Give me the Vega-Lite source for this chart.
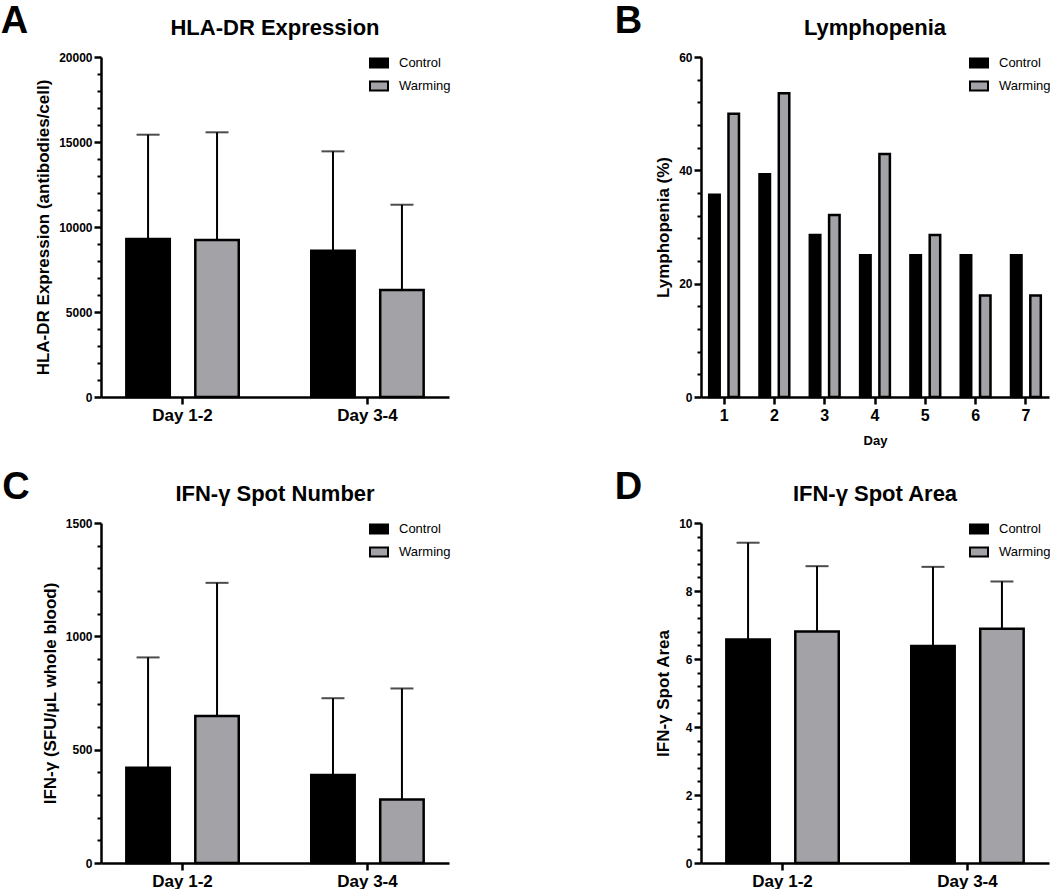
{
  "$schema": "https://vega.github.io/schema/vega-lite/v6.json",
  "padding": {"top": 3, "left": 0, "right": 0, "bottom": 0},
  "background": "white",
  "datasets": {
    "hla": [
      {"period": "Day 1-2", "group": "Control", "mean": 9300, "upper": 15430},
      {"period": "Day 1-2", "group": "Warming", "mean": 9230, "upper": 15570},
      {"period": "Day 3-4", "group": "Control", "mean": 8600, "upper": 14450},
      {"period": "Day 3-4", "group": "Warming", "mean": 6300, "upper": 11310}
    ],
    "lym": [
      {"day": "1", "group": "Control", "pct": 35.7},
      {"day": "1", "group": "Warming", "pct": 50.0},
      {"day": "2", "group": "Control", "pct": 39.3},
      {"day": "2", "group": "Warming", "pct": 53.6},
      {"day": "3", "group": "Control", "pct": 28.6},
      {"day": "3", "group": "Warming", "pct": 32.1},
      {"day": "4", "group": "Control", "pct": 25.0},
      {"day": "4", "group": "Warming", "pct": 42.9},
      {"day": "5", "group": "Control", "pct": 25.0},
      {"day": "5", "group": "Warming", "pct": 28.6},
      {"day": "6", "group": "Control", "pct": 25.0},
      {"day": "6", "group": "Warming", "pct": 17.9},
      {"day": "7", "group": "Control", "pct": 25.0},
      {"day": "7", "group": "Warming", "pct": 17.9}
    ],
    "ifnn": [
      {"period": "Day 1-2", "group": "Control", "mean": 420, "upper": 907},
      {"period": "Day 1-2", "group": "Warming", "mean": 649, "upper": 1236},
      {"period": "Day 3-4", "group": "Control", "mean": 388, "upper": 727},
      {"period": "Day 3-4", "group": "Warming", "mean": 280, "upper": 770}
    ],
    "ifna": [
      {"period": "Day 1-2", "group": "Control", "mean": 6.57, "upper": 9.42},
      {"period": "Day 1-2", "group": "Warming", "mean": 6.81, "upper": 8.73},
      {"period": "Day 3-4", "group": "Control", "mean": 6.38, "upper": 8.71},
      {"period": "Day 3-4", "group": "Warming", "mean": 6.89, "upper": 8.28}
    ]
  },
  "columns": 2,
  "align": "each",
  "spacing": {"row": 22, "column": 163},
  "resolve": {
    "scale": {"x": "independent", "y": "independent", "xOffset": "independent", "fill": "independent"},
    "legend": {"fill": "independent"}
  },
  "concat": [
    {
      "title": {"text": "A", "anchor": "start", "frame": "bounds", "fontSize": 38, "dx": -34, "dy": 24, "offset": 0},
      "resolve": {"scale": {"x": "independent", "y": "independent", "xOffset": "independent", "fill": "independent"}, "legend": {"fill": "independent"}},
      "vconcat": [
        {
          "width": 348,
          "height": 340,
          "data": {"name": "hla"},
          "title": {"text": "HLA-DR Expression", "fontSize": 22, "anchor": "middle", "frame": "group", "offset": 11},
          "encoding": {
            "x": {"field": "period", "type": "nominal", "sort": null, "scale": {"paddingInner": 0.392, "paddingOuter": 0.137}, "axis": {"title": null}},
            "xOffset": {"field": "group", "type": "nominal", "sort": null, "scale": {"paddingInner": 0.37, "paddingOuter": 0}}
          },
          "layer": [
            {
              "mark": {"type": "rule", "color": "black", "strokeWidth": 2},
              "encoding": {
                "y": {"field": "mean", "type": "quantitative", "scale": {"domain": [0, 20000], "nice": false}, "axis": {"orient": "left", "values": [1000, 2000, 3000, 4000, 6000, 7000, 8000, 9000, 11000, 12000, 13000, 14000, 16000, 17000, 18000, 19000], "labels": false, "domain": false, "tickSize": 4, "tickWidth": 2, "title": null}},
                "y2": {"field": "upper"}
              }
            },
            {
              "mark": {"type": "tick", "color": "black", "thickness": 2, "size": 23},
              "encoding": {
                "y": {"field": "upper", "type": "quantitative", "scale": {"domain": [0, 20000], "nice": false}, "axis": null}
              }
            },
            {
              "mark": {"type": "bar", "stroke": "black", "strokeWidth": 2.5},
              "encoding": {
                "y": {"field": "mean", "type": "quantitative", "scale": {"domain": [0, 20000], "nice": false}, "axis": {"orient": "left", "format": "d", "values": [0, 5000, 10000, 15000, 20000], "title": "HLA-DR Expression (antibodies/cell)"}},
                "fill": {"field": "group", "type": "nominal", "scale": {"domain": ["Control", "Warming"], "range": ["#000000", "#A2A2A7"]}, "legend": {}}
              }
            }
          ],
          "resolve": {"scale": {"y": "independent"}, "axis": {"y": "independent"}}
        }
      ]
    },
    {
      "title": {"text": "B", "anchor": "start", "frame": "bounds", "fontSize": 38, "dx": -40, "dy": 24, "offset": 0},
      "resolve": {"scale": {"x": "independent", "y": "independent", "xOffset": "independent", "fill": "independent"}, "legend": {"fill": "independent"}},
      "vconcat": [
        {
          "width": 348,
          "height": 340,
          "data": {"name": "lym"},
          "title": {"text": "Lymphopenia", "fontSize": 22, "anchor": "middle", "frame": "group", "offset": 11},
          "encoding": {
            "x": {"field": "day", "type": "nominal", "sort": null, "scale": {"paddingInner": 0.408, "paddingOuter": 0.163}, "axis": {"title": "Day", "titleFontSize": 13, "titlePadding": 11, "labelFontSize": 16}},
            "xOffset": {"field": "group", "type": "nominal", "sort": null, "scale": {"paddingInner": 0.456, "paddingOuter": 0}}
          },
          "layer": [
            {
              "mark": {"type": "bar", "opacity": 0},
              "encoding": {
                "y": {"field": "pct", "type": "quantitative", "scale": {"domain": [0, 60], "nice": false}, "axis": {"orient": "left", "values": [4, 8, 12, 16, 24, 28, 32, 36, 44, 48, 52, 56], "labels": false, "domain": false, "tickSize": 4, "tickWidth": 2, "title": null}}
              }
            },
            {
              "mark": {"type": "bar", "stroke": "black", "strokeWidth": 2.5},
              "encoding": {
                "y": {"field": "pct", "type": "quantitative", "scale": {"domain": [0, 60], "nice": false}, "axis": {"orient": "left", "format": "d", "values": [0, 20, 40, 60], "title": "Lymphopenia (%)"}},
                "fill": {"field": "group", "type": "nominal", "scale": {"domain": ["Control", "Warming"], "range": ["#000000", "#A2A2A7"]}, "legend": {}}
              }
            }
          ],
          "resolve": {"scale": {"y": "independent"}, "axis": {"y": "independent"}}
        }
      ]
    },
    {
      "title": {"text": "C", "anchor": "start", "frame": "bounds", "fontSize": 38, "dx": -39, "dy": 24, "offset": 0},
      "resolve": {"scale": {"x": "independent", "y": "independent", "xOffset": "independent", "fill": "independent"}, "legend": {"fill": "independent"}},
      "vconcat": [
        {
          "width": 348,
          "height": 340,
          "data": {"name": "ifnn"},
          "title": {"text": "IFN-γ Spot Number", "fontSize": 22, "anchor": "middle", "frame": "group", "offset": 11},
          "encoding": {
            "x": {"field": "period", "type": "nominal", "sort": null, "scale": {"paddingInner": 0.392, "paddingOuter": 0.137}, "axis": {"title": null}},
            "xOffset": {"field": "group", "type": "nominal", "sort": null, "scale": {"paddingInner": 0.37, "paddingOuter": 0}}
          },
          "layer": [
            {
              "mark": {"type": "rule", "color": "black", "strokeWidth": 2},
              "encoding": {
                "y": {"field": "mean", "type": "quantitative", "scale": {"domain": [0, 1500], "nice": false}, "axis": {"orient": "left", "values": [100, 200, 300, 400, 600, 700, 800, 900, 1100, 1200, 1300, 1400], "labels": false, "domain": false, "tickSize": 4, "tickWidth": 2, "title": null}},
                "y2": {"field": "upper"}
              }
            },
            {
              "mark": {"type": "tick", "color": "black", "thickness": 2, "size": 23},
              "encoding": {
                "y": {"field": "upper", "type": "quantitative", "scale": {"domain": [0, 1500], "nice": false}, "axis": null}
              }
            },
            {
              "mark": {"type": "bar", "stroke": "black", "strokeWidth": 2.5},
              "encoding": {
                "y": {"field": "mean", "type": "quantitative", "scale": {"domain": [0, 1500], "nice": false}, "axis": {"orient": "left", "format": "d", "values": [0, 500, 1000, 1500], "title": "IFN-γ (SFU/μL whole blood)"}},
                "fill": {"field": "group", "type": "nominal", "scale": {"domain": ["Control", "Warming"], "range": ["#000000", "#A2A2A7"]}, "legend": {}}
              }
            }
          ],
          "resolve": {"scale": {"y": "independent"}, "axis": {"y": "independent"}}
        }
      ]
    },
    {
      "title": {"text": "D", "anchor": "start", "frame": "bounds", "fontSize": 38, "dx": -40, "dy": 24, "offset": 0},
      "resolve": {"scale": {"x": "independent", "y": "independent", "xOffset": "independent", "fill": "independent"}, "legend": {"fill": "independent"}},
      "vconcat": [
        {
          "width": 348,
          "height": 340,
          "data": {"name": "ifna"},
          "title": {"text": "IFN-γ Spot Area", "fontSize": 22, "anchor": "middle", "frame": "group", "offset": 11},
          "encoding": {
            "x": {"field": "period", "type": "nominal", "sort": null, "scale": {"paddingInner": 0.392, "paddingOuter": 0.137}, "axis": {"title": null}},
            "xOffset": {"field": "group", "type": "nominal", "sort": null, "scale": {"paddingInner": 0.37, "paddingOuter": 0}}
          },
          "layer": [
            {
              "mark": {"type": "rule", "color": "black", "strokeWidth": 2},
              "encoding": {
                "y": {"field": "mean", "type": "quantitative", "scale": {"domain": [0, 10], "nice": false}, "axis": {"orient": "left", "values": [0.4, 0.8, 1.2, 1.6, 2.4, 2.8, 3.2, 3.6, 4.4, 4.8, 5.2, 5.6, 6.4, 6.8, 7.2, 7.6, 8.4, 8.8, 9.2, 9.6], "labels": false, "domain": false, "tickSize": 4, "tickWidth": 2, "title": null}},
                "y2": {"field": "upper"}
              }
            },
            {
              "mark": {"type": "tick", "color": "black", "thickness": 2, "size": 23},
              "encoding": {
                "y": {"field": "upper", "type": "quantitative", "scale": {"domain": [0, 10], "nice": false}, "axis": null}
              }
            },
            {
              "mark": {"type": "bar", "stroke": "black", "strokeWidth": 2.5},
              "encoding": {
                "y": {"field": "mean", "type": "quantitative", "scale": {"domain": [0, 10], "nice": false}, "axis": {"orient": "left", "format": "d", "values": [0, 2, 4, 6, 8, 10], "title": "IFN-γ Spot Area"}},
                "fill": {"field": "group", "type": "nominal", "scale": {"domain": ["Control", "Warming"], "range": ["#000000", "#A2A2A7"]}, "legend": {}}
              }
            }
          ],
          "resolve": {"scale": {"y": "independent"}, "axis": {"y": "independent"}}
        }
      ]
    }
  ],
  "config": {
    "font": "Liberation Sans",
    "view": {"stroke": null},
    "title": {"font": "Liberation Sans", "fontWeight": "bold", "color": "black"},
    "axis": {
      "domainColor": "black", "domainWidth": 2.5, "tickColor": "black", "tickWidth": 2.5, "tickSize": 7,
      "labelColor": "black", "labelFont": "Liberation Sans", "labelFontWeight": "bold", "labelPadding": 2,
      "titleFont": "Liberation Sans", "titleFontWeight": "bold", "titleColor": "black", "titleFontSize": 17,
      "grid": false, "zindex": 1
    },
    "axisY": {"labelFontSize": 12, "titlePadding": 6},
    "axisX": {"labelFontSize": 17, "labelPadding": 3, "labelAngle": 0},
    "legend": {
      "orient": "none", "legendX": 268, "legendY": -4, "title": null,
      "symbolType": "M-1,-0.5H1V0.5H-1Z", "symbolSize": 324, "symbolStrokeColor": "black", "symbolStrokeWidth": 2,
      "labelFont": "Liberation Sans", "labelFontSize": 13, "labelColor": "black", "labelOffset": 10, "rowPadding": 4, "padding": 0
    }
  }
}
